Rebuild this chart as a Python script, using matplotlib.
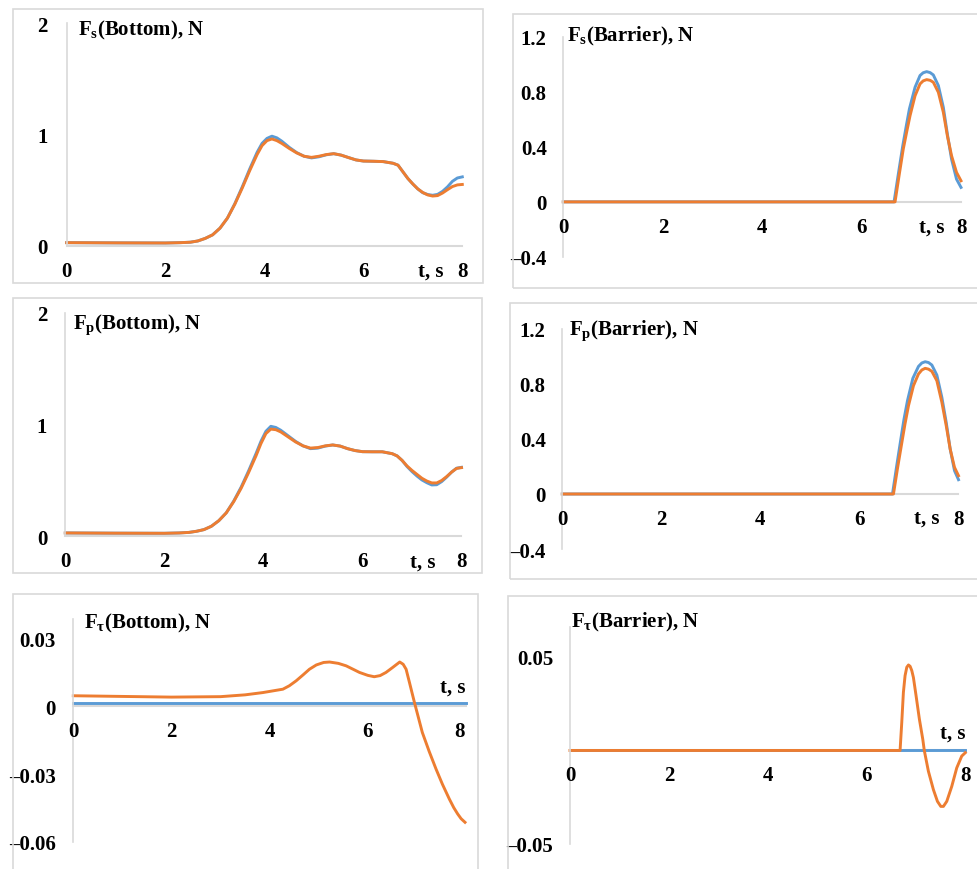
import matplotlib
matplotlib.use('Agg')
import matplotlib.pyplot as plt
from matplotlib.patches import Rectangle

plt.rcParams['font.family'] = ['Liberation Serif', 'DejaVu Serif']
plt.rcParams['font.weight'] = 'bold'
plt.rcParams['mathtext.fontset'] = 'custom'
plt.rcParams['mathtext.rm'] = 'Liberation Serif:bold'
plt.rcParams['mathtext.bf'] = 'Liberation Serif:bold'
plt.rcParams['mathtext.it'] = 'Liberation Serif:bold'

BLUE = '#5B9BD5'
ORANGE = '#ED7D31'
GRID = '#D9D9D9'
FS = 15

x_ticks = [0, 2, 4, 6, 8]

# Fs, bottom
fs_bot_t_orange = [0, 1.0, 2.0, 2.3, 2.5, 2.65, 2.8, 2.95, 3.1, 3.25, 3.4, 3.55, 3.7, 3.85, 3.95,
                   4.05, 4.15, 4.25, 4.35, 4.5, 4.65, 4.8, 4.95, 5.1, 5.25, 5.4, 5.55, 5.7, 5.85,
                   6.0, 6.2, 6.4, 6.6, 6.7, 6.8, 6.9, 7.0, 7.1, 7.2, 7.3, 7.4, 7.5, 7.6, 7.7, 7.8,
                   7.9, 8.0]
fs_bot_orange = [0.03, 0.028, 0.027, 0.03, 0.034, 0.045, 0.068, 0.1, 0.16, 0.25, 0.375, 0.52, 0.675,
                 0.82, 0.9, 0.945, 0.96, 0.945, 0.92, 0.875, 0.835, 0.805, 0.795, 0.805, 0.82, 0.828,
                 0.815, 0.793, 0.772, 0.762, 0.76, 0.757, 0.742, 0.725, 0.665, 0.605, 0.556, 0.512,
                 0.48, 0.458, 0.448, 0.452, 0.475, 0.505, 0.533, 0.548, 0.552]
fs_bot_t_blue = fs_bot_t_orange
fs_bot_blue = [0.03, 0.028, 0.027, 0.03, 0.034, 0.045, 0.068, 0.1, 0.16, 0.25, 0.38, 0.53, 0.69,
               0.84, 0.92, 0.965, 0.985, 0.97, 0.94, 0.885, 0.838, 0.805, 0.79, 0.8, 0.818, 0.828,
               0.815, 0.793, 0.772, 0.762, 0.76, 0.757, 0.742, 0.725, 0.665, 0.605, 0.556, 0.512,
               0.478, 0.462, 0.455, 0.463, 0.49, 0.53, 0.58, 0.61, 0.62]

# Fs, barrier
fs_bar_t_orange = [0, 6.665, 6.75, 6.83, 6.9, 6.966, 7.067, 7.167, 7.23, 7.30, 7.37, 7.434, 7.535,
                   7.635, 7.716, 7.80, 7.90, 7.99]
fs_bar_orange = [0, 0, 0.2, 0.383, 0.51, 0.625, 0.77, 0.856, 0.878, 0.887, 0.882, 0.868, 0.795,
                 0.65, 0.48, 0.335, 0.214, 0.153]
fs_bar_t_blue = [0, 6.645, 6.73, 6.82, 6.89, 6.953, 7.067, 7.167, 7.23, 7.30, 7.37, 7.434, 7.535,
                 7.635, 7.716, 7.80, 7.90, 7.99]
fs_bar_blue = [0, 0, 0.2, 0.407, 0.55, 0.674, 0.832, 0.917, 0.937, 0.945, 0.938, 0.921, 0.844,
               0.686, 0.492, 0.31, 0.165, 0.105]

# Fp, bottom
fp_bot_t_orange = fs_bot_t_orange
fp_bot_orange = [0.03, 0.028, 0.027, 0.03, 0.035, 0.045, 0.06, 0.09, 0.14, 0.21, 0.31, 0.43, 0.57,
                 0.72, 0.83, 0.92, 0.96, 0.955, 0.935, 0.89, 0.845, 0.81, 0.79, 0.795, 0.81, 0.818,
                 0.808, 0.785, 0.768, 0.758, 0.757, 0.757, 0.74, 0.72, 0.68, 0.63, 0.59, 0.555,
                 0.52, 0.495, 0.478, 0.478, 0.5, 0.535, 0.575, 0.608, 0.615]
fp_bot_t_blue = fs_bot_t_orange
fp_bot_blue = [0.03, 0.028, 0.027, 0.03, 0.035, 0.045, 0.06, 0.09, 0.14, 0.21, 0.315, 0.44, 0.585,
               0.74, 0.85, 0.94, 0.985, 0.975, 0.95, 0.9, 0.85, 0.81, 0.785, 0.79, 0.808, 0.818,
               0.808, 0.785, 0.768, 0.758, 0.757, 0.757, 0.74, 0.72, 0.68, 0.625, 0.58, 0.54,
               0.505, 0.48, 0.46, 0.462, 0.49, 0.53, 0.575, 0.61, 0.618]

# Fp, barrier
fp_bar_t_orange = [0, 6.687, 6.77, 6.857, 6.92, 6.99, 7.091, 7.192, 7.26, 7.327, 7.395, 7.462,
                   7.563, 7.664, 7.752, 7.832, 7.919, 8.0]
fp_bar_orange = [0, 0, 0.19, 0.376, 0.51, 0.642, 0.788, 0.873, 0.902, 0.914, 0.908, 0.892, 0.824,
                 0.667, 0.497, 0.327, 0.194, 0.133]
fp_bar_t_blue = [0, 6.667, 6.75, 6.836, 6.9, 6.97, 7.078, 7.192, 7.26, 7.327, 7.395, 7.462,
                 7.563, 7.664, 7.752, 7.832, 7.919, 8.0]
fp_bar_blue = [0, 0, 0.2, 0.4, 0.545, 0.679, 0.841, 0.928, 0.953, 0.962, 0.956, 0.938, 0.865,
               0.703, 0.521, 0.327, 0.17, 0.104]

# Ftau, bottom
ft_bot_t_orange = [0, 1.0, 2.0, 3.0, 3.5, 3.86, 4.27, 4.4, 4.54, 4.68, 4.81, 4.95, 5.1, 5.22, 5.4,
                   5.56, 5.7, 5.83, 6.0, 6.13, 6.25, 6.37, 6.5, 6.65, 6.72, 6.78, 6.85, 6.95, 7.11,
                   7.25, 7.39, 7.52, 7.66, 7.75, 7.83, 7.9, 7.98]
ft_bot_orange = [0.0046, 0.0043, 0.004, 0.0042, 0.005, 0.006, 0.0075, 0.009, 0.0112, 0.0138,
                 0.0163, 0.0182, 0.0193, 0.0195, 0.0189, 0.0178, 0.0163, 0.0149, 0.0136, 0.013,
                 0.0135, 0.0149, 0.017, 0.0195, 0.0185, 0.0163, 0.0103, 0.0016, -0.0116, -0.02,
                 -0.0278, -0.0345, -0.041, -0.0448, -0.0476, -0.0497, -0.0513]
ft_bot_t_blue = [0, 8.0]
ft_bot_blue = [0.0016, 0.0016]

# Ftau, barrier
ft_bar_t_orange = [0, 6.68, 6.714, 6.747, 6.781, 6.816, 6.85, 6.883, 6.917, 6.95, 7.004, 7.071,
                   7.14, 7.17, 7.253, 7.355, 7.436, 7.504, 7.557, 7.625, 7.726, 7.827, 7.928, 8.0]
ft_bar_orange = [0, 0, 0.0149, 0.031, 0.040, 0.0445, 0.0457, 0.045, 0.0427, 0.039, 0.0292, 0.0167,
                 0.0059, 0, -0.0111, -0.021, -0.0272, -0.0299, -0.0299, -0.0272, -0.0192, -0.0093,
                 -0.003, -0.0012]
ft_bar_t_blue = [0, 8.0]
ft_bar_blue = [0, 0]

DASH = '\u2013'

panels = [
    dict(title=r'F$_\mathrm{s}$(Bottom), N',
         blue=(fs_bot_t_blue, fs_bot_blue), orange=(fs_bot_t_orange, fs_bot_orange),
         yticks=[0, 1, 2], ylabels=['0', '1', '2'], ylim=(0, 2),
         box=(66.7, 462.3, 24, 247), pad=14, tpos=(78, 30), ts=(7.37, -18), last_dx=0,
         frame=(13, 10, 483, 284)),
    dict(title=r'F$_\mathrm{s}$(Barrier), N',
         blue=(fs_bar_t_blue, fs_bar_blue), orange=(fs_bar_t_orange, fs_bar_orange),
         yticks=[-0.4, 0, 0.4, 0.8, 1.2], ylabels=[DASH + '0.4', '0', '0.4', '0.8', '1.2'],
         ylim=(-0.4, 1.2),
         box=(563.3, 961.5, 37.5, 258), pad=12, tpos=(567, 36), ts=(7.4, -18), last_dx=0,
         frame=(513, 15, 982, 289)),
    dict(title=r'F$_\mathrm{p}$(Bottom), N',
         blue=(fp_bot_t_blue, fp_bot_blue), orange=(fp_bot_t_orange, fp_bot_orange),
         yticks=[0, 1, 2], ylabels=['0', '1', '2'], ylim=(0, 2),
         box=(65.3, 461.5, 314, 537.3), pad=13, tpos=(73, 325), ts=(7.22, -18), last_dx=0,
         frame=(13, 299, 482, 574)),
    dict(title=r'F$_\mathrm{p}$(Barrier), N',
         blue=(fp_bar_t_blue, fp_bar_blue), orange=(fp_bar_t_orange, fp_bar_orange),
         yticks=[-0.4, 0, 0.4, 0.8, 1.2], ylabels=[DASH + '0.4', '0', '0.4', '0.8', '1.2'],
         ylim=(-0.4, 1.2),
         box=(562.3, 958.5, 330, 550), pad=12, tpos=(569, 331), ts=(7.35, -17), last_dx=0,
         frame=(510, 304, 982, 580)),
    dict(title=r'F$_\mathrm{\tau}$(Bottom), N',
         blue=(ft_bot_t_blue, ft_bot_blue), orange=(ft_bot_t_orange, ft_bot_orange),
         yticks=[-0.06, -0.03, 0, 0.03], ylabels=[DASH + '0.06', DASH + '0.03', '0', '0.03'],
         ylim=(-0.06, 0.0385),
         box=(73.3, 466, 620, 843), pad=12.5, tpos=(84, 623), ts=(8.0, 14), last_dx=-5,
         frame=(13, 595, 478, 875)),
    dict(title=r'F$_\mathrm{\tau}$(Barrier), N',
         blue=(ft_bar_t_blue, ft_bar_blue), orange=(ft_bar_t_orange, ft_bar_orange),
         yticks=[-0.05, 0.05], ylabels=[DASH + '0.05', '0.05'], ylim=(-0.05, 0.066),
         box=(570, 965.3, 628, 845), pad=12, tpos=(571, 622), ts=(8.0, 13), last_dx=0,
         frame=(508, 597, 982, 875)),
]

W, H = 978, 870
fig = plt.figure(figsize=(W / 100, H / 100), dpi=100)

for p in panels:
    # light frame around each chart
    fx0, fy0, fx1, fy1 = p['frame']
    fig.add_artist(Rectangle((fx0 / W, 1 - fy1 / H), (fx1 - fx0) / W, (fy1 - fy0) / H,
                             transform=fig.transFigure, fill=False, ec=GRID, lw=1.2))

    x0, x1, ytop, ybot = p['box']
    ax = fig.add_axes([x0 / W, 1 - ybot / H, (x1 - x0) / W, (ybot - ytop) / H])
    ax.set_xlim(0, 8)
    ax.set_ylim(*p['ylim'])
    ax.patch.set_alpha(0)

    ax.plot(*p['blue'], color=BLUE, lw=2.1, clip_on=False, solid_joinstyle='round')
    ax.plot(*p['orange'], color=ORANGE, lw=2.1, clip_on=False, solid_joinstyle='round')

    for s in ['top', 'right']:
        ax.spines[s].set_visible(False)
    ax.spines['left'].set_color(GRID)
    ax.spines['bottom'].set_color(GRID)
    ax.spines['left'].set_linewidth(1.2)
    ax.spines['bottom'].set_linewidth(1.5)
    ax.spines['bottom'].set_position(('data', 0))
    ax.spines['bottom'].set_zorder(0)

    ax.set_xticks([])
    ax.set_yticks(p['yticks'])
    ax.set_yticklabels(p['ylabels'])
    ax.tick_params(axis='y', length=0, pad=p['pad'], labelsize=FS)

    for t in x_ticks:
        dx = p['last_dx'] if t == x_ticks[-1] else 0
        ax.annotate(str(t), (t, 0), xytext=(dx, -18), textcoords='offset points',
                    ha='center', va='center', fontsize=FS, fontweight='bold')

    ts_x, ts_dy = p['ts']
    ax.annotate('t, s', (ts_x, 0), xytext=(0, ts_dy), textcoords='offset points',
                ha='right' if ts_dy > 0 else 'center', va='center',
                fontsize=FS, fontweight='bold')

    tx, ty = p['tpos']
    fig.text(tx / W, 1 - ty / H, p['title'], ha='left', va='center',
             fontsize=FS, fontweight='bold')

fig.savefig('out.png', dpi=100)
